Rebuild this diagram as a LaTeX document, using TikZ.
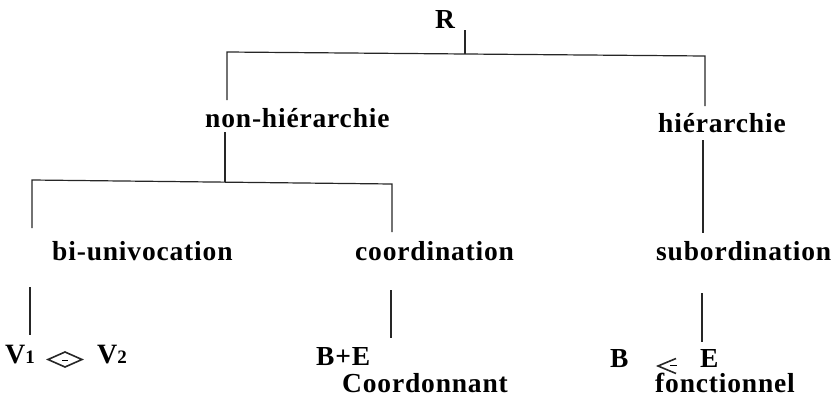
\documentclass[tikz,border=0pt]{standalone}
\usepackage{fontspec}
\setmainfont{Liberation Serif}[LetterSpace=3]
\begin{document}
\begin{tikzpicture}[x=1pt,y=-1pt,
  lbl/.style={inner sep=0pt, anchor=base west, font=\fontsize{27.5}{32}\selectfont\bfseries},
  big/.style={inner sep=0pt, anchor=base west, font=\fontsize{28}{32}\selectfont\bfseries},
  ln/.style={line width=1.2pt, black!85},
  sym/.style={line width=1.6pt, black!85, line join=miter}]
\useasboundingbox (0,0) rectangle (833,407);
% nodes
\node[lbl] (R) at (435,28) {R};
\node[lbl] (nh) at (205,127) {non-hiérarchie};
\node[lbl] (h) at (658,132) {hiérarchie};
\node[lbl] (bu) at (52,260) {bi-univocation};
\node[lbl] (co) at (355,260) {coordination};
\node[lbl] (sub) at (656,260) {subordination};
\node[big] (v1) at (5,363) {V{\fontsize{19}{20}\selectfont 1}};
\node[big] (v2) at (97,363) {V{\fontsize{19}{20}\selectfont 2}};
\node[lbl] (be) at (316,365) {B+E};
\node[lbl] (cn) at (342,392) {Coordonnant};
\node[lbl] (b) at (610,367) {B};
\node[lbl] (e) at (700,367) {E};
\node[lbl] (fo) at (655,392) {fonctionnel};
% coordinates for connectors
\coordinate (r0) at (465,30);
\coordinate (r1) at (465,54);
\coordinate (tl) at (227,52);
\coordinate (tr) at (705,56);
\coordinate (nhtop) at (227,100);
\coordinate (htop) at (705,106);
\coordinate (hb0) at (703,140);
\coordinate (hb1) at (703,233);
\coordinate (nb0) at (225,132);
\coordinate (nb1) at (225,182);
\coordinate (ml) at (32,180);
\coordinate (mr) at (392,184);
\coordinate (butop) at (32,228);
\coordinate (cotop) at (392,232);
\coordinate (bu0) at (30,287);
\coordinate (bu1) at (30,335);
\coordinate (co0) at (391,290);
\coordinate (co1) at (391,338);
\coordinate (su0) at (702,293);
\coordinate (su1) at (702,342);
% connectors
\draw[ln] (r0) -- (r1);
\draw[ln] (nhtop) -- (tl) -- (tr) -- (htop);
\draw[ln] (hb0) -- (hb1);
\draw[ln] (nb0) -- (nb1);
\draw[ln] (butop) -- (ml) -- (mr) -- (cotop);
\draw[ln] (bu0) -- (bu1);
\draw[ln] (co0) -- (co1);
\draw[ln] (su0) -- (su1);
% symbols
\draw[sym] (48,359.5) -- (65,352) -- (82,359.5) -- (65,367) -- cycle;
\draw[line width=1pt] (62,360) -- (68,360);
\draw[sym] (676,358.5) -- (658,366) -- (676,373.5);
\draw[line width=1pt] (670,365.5) -- (677,365.5);
\end{tikzpicture}
\end{document}
